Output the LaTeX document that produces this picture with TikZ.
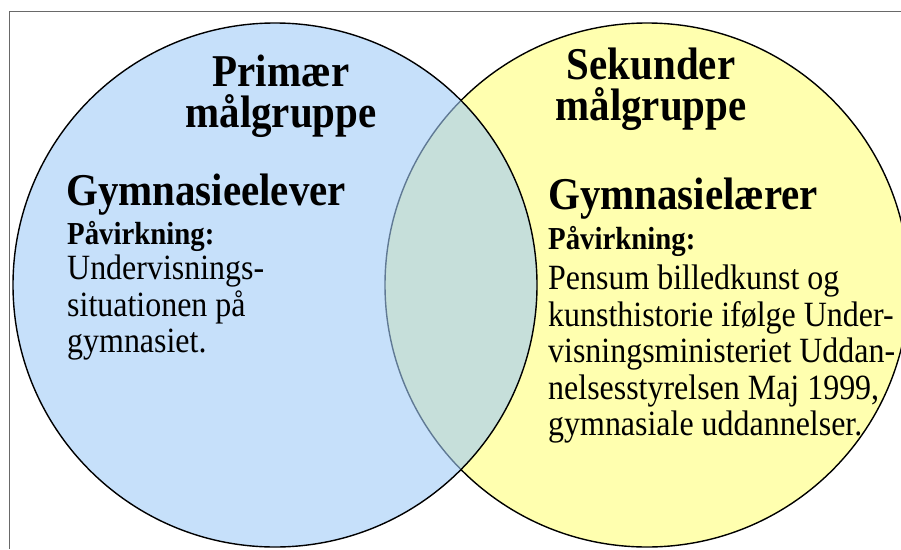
\documentclass[tikz,border=0pt]{standalone}
\usepackage{fontspec}
\setmainfont{Liberation Serif}
\newfontfamily\venfont[FakeStretch=0.9]{Liberation Serif}
\usetikzlibrary{positioning}
\definecolor{circleyellow}{RGB}{255,255,175}
\definecolor{circleblue}{RGB}{160,203,247}
\definecolor{framegray}{RGB}{105,105,105}
\tikzset{
  headtext/.style={font=\venfont\fontsize{45.5}{41}\selectfont\bfseries, inner sep=0pt, align=center, anchor=north},
  nametext/.style={font=\venfont\fontsize{45.5}{45}\selectfont\bfseries, inner sep=0pt, anchor=base west},
  effecttext/.style={font=\venfont\fontsize{32}{32}\selectfont\bfseries, inner sep=0pt, anchor=base west},
  bodytext/.style={font=\venfont\fontsize{35.5}{36.5}\selectfont, inner sep=0pt, align=left, anchor=north west},
}
\begin{document}
\begin{tikzpicture}[x=1pt,y=-1pt]
            \useasboundingbox (0,0) rectangle (901,549);
            \clip (0,0) rectangle (901,549);

            % Drawing frame
            \draw [framegray, line width=1pt] (901,11) -- (9,11) -- (9,549);%

            % Drawing circle of the secondary group
            \draw [fill=circleyellow, line width=1.4pt] (647,285) circle [radius=262pt];%

            % Drawing circle of the primary group (see-through)
            \draw [fill=circleblue, fill opacity=0.6, line width=1.4pt] (275,285) circle [radius=262pt];%

            % Marking primary group
            \draw (281,55) node [headtext] (primtitle) {Primær\\målgruppe};%
            \draw (66,205) node [nametext] (primname) {Gymnasieelever};%
            \draw (67,244) node [effecttext] (primeffect) {Påvirkning:};%
            \draw (67,255) node [bodytext] (primbody) {Undervisnings-\\situationen på\\gymnasiet.};%

            % Marking secondary group
            \draw (651,48) node [headtext] (sekutitle) {Sekunder\\målgruppe};%
            \draw (548,209) node [nametext] (sekuname) {Gymnasielærer};%
            \draw (548,249) node [effecttext] (sekueffect) {Påvirkning:};%
            \draw (548,265) node [bodytext] (sekubody) {Pensum billedkunst og\\kunsthistorie ifølge Under-\\visningsministeriet Uddan-\\nelsesstyrelsen Maj 1999,\\gymnasiale uddannelser.};%
\end{tikzpicture}
\end{document}
